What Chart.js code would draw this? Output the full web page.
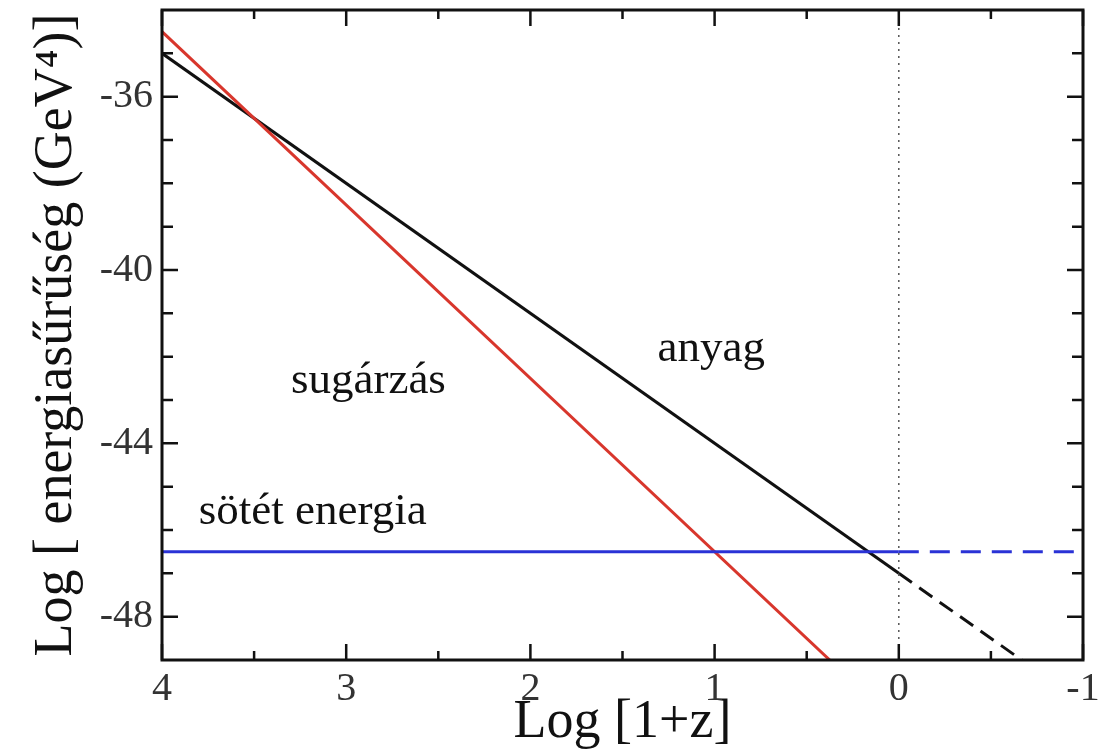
<!DOCTYPE html>
<html>
<head>
<meta charset="utf-8">
<script src="https://cdn.jsdelivr.net/npm/chart.js@4.4.1/dist/chart.umd.min.js"></script>
<style>
  html,body{margin:0;background:#fff}
  #wrap{width:1103px;height:753px}
</style>
</head>
<body>
<div id="wrap"><canvas id="c"></canvas></div>
<script>
// axis ticks
const xTicks = [4, 3, 2, 1, 0, -1];
const xMinor = [3.5, 2.5, 1.5, 0.5, -0.5];
const yTicks = [-36, -40, -44, -48];
const yMinor = [-35, -37, -38, -39, -41, -42, -43, -45, -46, -47];

// energy density curves, Log[1+z] vs Log[rho]
const radiationX = [4, 0.375];
const radiationY = [-34.5, -49];
const matterX = [4, 0];
const matterY = [-35, -47];
const matterFutureX = [0, -0.667];
const matterFutureY = [-47, -49];
const darkX = [4, 0];
const darkY = [-46.5, -46.5];
const darkFutureX = [0, -1];
const darkFutureY = [-46.5, -46.5];
const todayX = [0, 0];
const todayY = [-49, -34];

// curve names placed in data space
const curveNames = ['sugárzás', 'anyag', 'sötét energia'];
const nameX = [3.3, 1.31, 3.8];
const nameY = [-42.83, -42.1, -45.85];

const SERIF = '"Liberation Serif", "Times New Roman", serif';

function pts(xs, ys){ return xs.map((x,i)=>({x, y:ys[i]})); }

function line(data, color, dash, width){
  return {data, borderColor:color, borderWidth:width||3, borderDash:dash||[], pointRadius:0, showLine:true, fill:false, tension:0};
}

// box around the plot with inward ticks, plus the curve names
const framePlugin = {
  id:'frame',
  afterDatasetsDraw(chart){
    const {ctx, chartArea:a, scales:{x, y}} = chart;
    ctx.save();
    ctx.fillStyle = '#111';
    ctx.font = '45px ' + SERIF;
    ctx.textAlign = 'left';
    ctx.textBaseline = 'alphabetic';
    curveNames.forEach((t,i)=> ctx.fillText(t, x.getPixelForValue(nameX[i]), y.getPixelForValue(nameY[i])));

    ctx.strokeStyle = '#111';
    ctx.lineWidth = 2.5;
    ctx.beginPath();
    const xt = (v, len)=>{ const p = x.getPixelForValue(v);
      ctx.moveTo(p, a.bottom); ctx.lineTo(p, a.bottom-len);
      ctx.moveTo(p, a.top); ctx.lineTo(p, a.top+len); };
    const yt = (v, len)=>{ const p = y.getPixelForValue(v);
      ctx.moveTo(a.left, p); ctx.lineTo(a.left+len, p);
      ctx.moveTo(a.right, p); ctx.lineTo(a.right-len, p); };
    xTicks.forEach(v=>xt(v, 16));
    xMinor.forEach(v=>xt(v, 9));
    yTicks.forEach(v=>yt(v, 16));
    yMinor.forEach(v=>yt(v, 11));
    ctx.stroke();
    ctx.lineWidth = 3;
    ctx.strokeRect(a.left, a.top, a.right-a.left, a.bottom-a.top);
    ctx.restore();
  }
};

new Chart(document.getElementById('c'), {
  type:'scatter',
  data:{datasets:[
    line(pts(todayX, todayY), '#555', [2,5], 1.5),
    line(pts(darkX, darkY), '#2a32d6'),
    line(pts(darkFutureX, darkFutureY), '#2a32d6', [20,11]),
    line(pts(radiationX, radiationY), '#d8362c'),
    line(pts(matterX, matterY), '#111'),
    line(pts(matterFutureX, matterFutureY), '#111', [16,9])
  ]},
  options:{
    responsive:true, maintainAspectRatio:false, animation:false,
    layout:{padding:{top:10, right:20, left:0, bottom:0}},
    plugins:{legend:{display:false}, tooltip:{enabled:false}},
    scales:{
      x:{
        type:'linear', min:-1, max:4, reverse:true,
        afterBuildTicks:s=>{ s.ticks = xTicks.map(v=>({value:v})); },
        afterFit:s=>{ s.height = 93; s.paddingLeft = 0; s.paddingRight = 0; },
        grid:{display:false, drawTicks:false}, border:{display:false},
        ticks:{padding:5, color:'#333', font:{family:SERIF, size:40}, callback:v=>String(v)},
        title:{display:true, text:'Log [1+z]', color:'#111', font:{family:SERIF, size:54, lineHeight:1}, padding:{top:0, bottom:3}}
      },
      y:{
        type:'linear', min:-49, max:-34,
        afterBuildTicks:s=>{ s.ticks = yTicks.map(v=>({value:v})); },
        afterFit:s=>{ s.width = 162; s.paddingTop = 0; s.paddingBottom = 0; },
        grid:{display:false, drawTicks:false}, border:{display:false},
        ticks:{padding:9, color:'#333', font:{family:SERIF, size:40}, callback:v=>String(v)},
        title:{display:true, text:'Log [ energiasűrűség (GeV⁴)]', color:'#111', font:{family:SERIF, size:54, lineHeight:1}, padding:{top:30, bottom:0}}
      }
    }
  },
  plugins:[framePlugin]
});
</script>
</body>
</html>
